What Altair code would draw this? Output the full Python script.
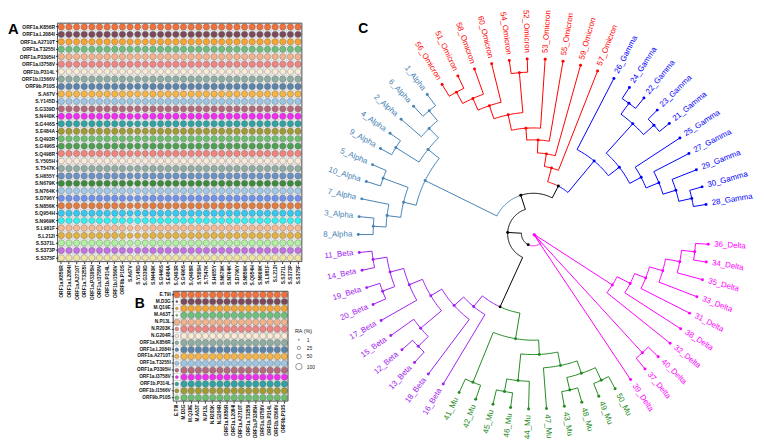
import math
import altair as alt
import pandas as pd

# ---------------- data ----------------
a_muts = ["ORF1a.K856R", "ORF1a.L2084I", "ORF1a.A2710T", "ORF1a.T3255I", "ORF1a.P3395H",
          "ORF1a.I3758V", "ORF1b.P314L", "ORF1b.I1566V", "ORF9b.P10S", "S.A67V", "S.Y145D",
          "S.G339D", "S.N440K", "S.G446S", "S.E484A", "S.Q493R", "S.G496S", "S.Q498R",
          "S.Y505H", "S.T547K", "S.H655Y", "S.N679K", "S.N764K", "S.D796Y", "S.N856K",
          "S.Q954H", "S.N969K", "S.L981F", "S.L212I", "S.S371L", "S.S373P", "S.S375F"]

b_muts = ["E.T9I", "M.D3G", "M.Q19E", "M.A63T", "N.P13L", "N.R203K", "N.G204R",
          "ORF1a.K856R", "ORF1a.L2084I", "ORF1a.A2710T", "ORF1a.T3255I", "ORF1a.P3395H",
          "ORF1a.I3758V", "ORF1b.P314L", "ORF1b.I1566V", "ORF9b.P10S"]

row_colors = ["#F2703A", "#7A4A5A", "#F5A431", "#6EBF7C", "#F2B38C", "#F08482", "#FBEBD3",
              "#8FAEA2", "#5B84AA", "#F6B445", "#9CC6E4", "#B4697C", "#F22CF2", "#2FA3A3",
              "#A09B33", "#6DBF70", "#4DA052", "#F0837C", "#FBEBD6", "#92ACA2", "#6A92C2",
              "#3B8B3D", "#A2CAE8", "#7092EA", "#E07B42", "#36C8F0", "#33F0F0", "#F6BA92",
              "#E1B143", "#B2F0A2", "#C272E2", "#F1E2A2"]

# relative abundance (%), rows = a_muts, columns = a_muts
a_ra = [
    [100, 100, 100, 100, 100, 100, 100, 100, 100, 95, 95, 95, 100, 100, 100, 100, 100, 100, 100, 100, 100, 100, 100, 100, 100, 100, 100, 100, 100, 100, 100, 100],
    [100, 100, 100, 100, 100, 100, 100, 100, 100, 95, 95, 95, 100, 100, 100, 100, 100, 100, 100, 100, 100, 100, 100, 100, 100, 100, 100, 100, 100, 100, 100, 100],
    [100, 100, 100, 100, 100, 100, 100, 100, 100, 95, 95, 95, 100, 100, 100, 100, 100, 100, 100, 100, 100, 100, 100, 100, 100, 100, 100, 100, 100, 100, 100, 100],
    [100, 100, 100, 100, 100, 100, 100, 100, 100, 95, 95, 95, 100, 100, 100, 100, 100, 100, 100, 100, 100, 100, 100, 100, 100, 100, 100, 100, 100, 100, 100, 100],
    [100, 100, 100, 100, 100, 100, 100, 100, 100, 95, 95, 95, 100, 100, 100, 100, 100, 100, 100, 100, 100, 100, 100, 100, 100, 100, 100, 100, 95, 95, 100, 100],
    [100, 100, 100, 100, 100, 100, 100, 100, 100, 95, 95, 95, 100, 100, 100, 100, 100, 100, 100, 100, 100, 100, 100, 100, 100, 100, 100, 100, 100, 100, 100, 100],
    [92, 92, 92, 92, 92, 92, 92, 92, 92, 88, 88, 88, 92, 92, 92, 92, 92, 92, 92, 92, 92, 92, 92, 92, 92, 88, 88, 92, 92, 92, 92, 92],
    [100, 100, 100, 100, 100, 100, 100, 100, 100, 95, 95, 95, 100, 100, 100, 100, 100, 100, 100, 100, 100, 100, 100, 100, 100, 100, 100, 100, 100, 100, 100, 100],
    [100, 100, 100, 100, 100, 100, 100, 100, 100, 95, 95, 95, 100, 100, 100, 100, 100, 100, 100, 100, 100, 100, 100, 100, 100, 100, 100, 100, 100, 100, 100, 100],
    [100, 100, 100, 100, 100, 100, 100, 100, 100, 95, 95, 95, 100, 100, 100, 100, 100, 100, 100, 100, 100, 100, 100, 100, 100, 100, 100, 100, 100, 100, 100, 100],
    [100, 100, 100, 100, 100, 100, 100, 100, 100, 95, 95, 95, 100, 100, 100, 100, 100, 100, 100, 100, 100, 100, 100, 100, 100, 100, 100, 100, 100, 100, 100, 100],
    [100, 100, 100, 100, 100, 100, 100, 100, 100, 95, 95, 95, 100, 100, 100, 100, 100, 100, 100, 100, 100, 100, 100, 100, 100, 100, 100, 100, 100, 100, 100, 100],
    [100, 100, 100, 100, 100, 100, 100, 100, 100, 95, 95, 95, 100, 100, 100, 100, 100, 100, 100, 100, 100, 100, 100, 100, 100, 100, 100, 100, 100, 100, 100, 100],
    [100, 100, 100, 100, 100, 100, 100, 100, 100, 95, 95, 95, 100, 100, 100, 100, 100, 100, 100, 100, 100, 100, 100, 100, 100, 100, 100, 100, 100, 100, 100, 100],
    [100, 100, 100, 100, 100, 100, 100, 100, 100, 95, 95, 95, 100, 100, 100, 100, 100, 100, 100, 100, 100, 100, 100, 100, 100, 100, 100, 100, 100, 100, 100, 100],
    [100, 100, 100, 100, 100, 100, 100, 100, 100, 95, 95, 95, 100, 100, 100, 100, 100, 100, 100, 100, 100, 100, 100, 100, 100, 100, 100, 100, 100, 100, 100, 100],
    [100, 100, 100, 100, 100, 100, 100, 100, 100, 95, 95, 95, 100, 100, 100, 100, 100, 100, 100, 100, 100, 100, 100, 100, 100, 100, 100, 100, 100, 100, 100, 100],
    [100, 100, 100, 100, 100, 100, 100, 100, 100, 95, 95, 95, 100, 100, 100, 100, 100, 100, 100, 100, 100, 100, 100, 100, 100, 100, 100, 100, 100, 100, 100, 100],
    [95, 95, 95, 95, 95, 95, 95, 95, 95, 85, 85, 90, 95, 95, 95, 95, 95, 95, 95, 95, 95, 95, 95, 95, 95, 95, 95, 95, 95, 95, 95, 95],
    [100, 100, 100, 100, 100, 100, 100, 100, 100, 90, 95, 95, 100, 100, 100, 100, 100, 100, 100, 100, 100, 100, 100, 100, 100, 100, 100, 100, 100, 100, 100, 100],
    [100, 100, 100, 100, 100, 100, 100, 100, 100, 90, 95, 95, 100, 100, 100, 100, 100, 100, 100, 100, 100, 100, 100, 100, 100, 100, 100, 100, 100, 100, 100, 100],
    [100, 100, 100, 100, 100, 100, 100, 100, 100, 90, 95, 95, 100, 100, 100, 100, 100, 100, 100, 100, 100, 100, 100, 100, 100, 100, 100, 100, 100, 100, 100, 100],
    [100, 100, 100, 100, 100, 100, 100, 100, 100, 90, 95, 95, 100, 100, 100, 100, 100, 100, 100, 100, 100, 100, 100, 100, 100, 100, 100, 100, 100, 100, 100, 100],
    [100, 100, 100, 100, 100, 100, 100, 100, 100, 90, 95, 95, 100, 100, 100, 100, 100, 100, 100, 100, 100, 100, 100, 100, 100, 100, 100, 100, 100, 100, 100, 100],
    [100, 100, 100, 100, 100, 100, 100, 100, 100, 90, 95, 95, 100, 100, 100, 100, 100, 100, 100, 100, 100, 100, 100, 100, 100, 100, 100, 100, 100, 100, 100, 100],
    [100, 100, 100, 100, 100, 100, 100, 100, 100, 90, 95, 95, 100, 100, 100, 100, 100, 100, 100, 100, 100, 100, 100, 100, 100, 100, 100, 100, 100, 100, 100, 100],
    [100, 100, 100, 100, 100, 100, 100, 100, 100, 90, 95, 95, 100, 100, 100, 100, 100, 100, 100, 100, 100, 100, 100, 100, 100, 100, 100, 100, 100, 100, 100, 100],
    [100, 100, 100, 100, 100, 100, 100, 100, 100, 80, 85, 95, 100, 100, 100, 100, 100, 100, 100, 100, 100, 100, 100, 100, 100, 100, 100, 100, 100, 100, 100, 100],
    [100, 100, 100, 100, 100, 100, 100, 100, 100, 80, 85, 95, 100, 100, 100, 100, 100, 100, 100, 100, 100, 100, 100, 100, 100, 100, 100, 100, 100, 100, 100, 100],
    [100, 100, 100, 100, 100, 100, 100, 100, 100, 80, 90, 95, 100, 100, 100, 100, 100, 100, 100, 100, 100, 100, 100, 100, 100, 100, 100, 100, 100, 100, 100, 100],
    [100, 100, 100, 100, 100, 100, 100, 100, 100, 90, 95, 95, 100, 100, 100, 100, 100, 100, 100, 100, 100, 100, 100, 100, 100, 100, 100, 100, 100, 100, 100, 100],
    [100, 100, 100, 100, 100, 100, 100, 100, 100, 90, 95, 95, 100, 100, 100, 100, 100, 100, 100, 100, 100, 100, 100, 100, 100, 100, 100, 100, 100, 100, 100, 100],
]

# rows = b_muts, columns = b_muts
b_ra = [
    [95, 100, 100, 100, 90, 100, 100, 100, 100, 100, 100, 100, 100, 100, 100, 100],
    [10, 100, 100, 100, 100, 100, 100, 100, 100, 100, 100, 100, 100, 100, 100, 100],
    [18, 100, 100, 100, 100, 100, 100, 100, 100, 100, 100, 100, 100, 100, 100, 100],
    [10, 100, 100, 100, 100, 100, 100, 100, 100, 100, 100, 100, 100, 100, 100, 100],
    [85, 100, 100, 100, 100, 100, 100, 100, 100, 100, 100, 100, 100, 100, 100, 100],
    [35, 100, 100, 100, 100, 100, 100, 100, 100, 100, 100, 100, 100, 100, 100, 100],
    [35, 100, 100, 100, 100, 100, 100, 100, 100, 100, 100, 100, 100, 100, 100, 100],
    [35, 100, 100, 100, 100, 100, 100, 100, 100, 100, 100, 100, 100, 100, 100, 100],
    [35, 100, 100, 100, 100, 100, 100, 100, 100, 100, 100, 100, 100, 100, 100, 100],
    [45, 100, 100, 100, 100, 100, 100, 100, 100, 100, 100, 100, 100, 100, 100, 100],
    [45, 100, 100, 100, 100, 100, 100, 100, 100, 100, 100, 100, 100, 100, 100, 100],
    [35, 100, 100, 100, 100, 100, 100, 100, 100, 100, 100, 100, 100, 100, 100, 100],
    [22, 100, 100, 100, 100, 100, 100, 100, 100, 100, 100, 100, 100, 100, 100, 100],
    [35, 100, 100, 100, 100, 100, 100, 100, 100, 100, 100, 100, 100, 100, 100, 100],
    [45, 100, 100, 100, 100, 100, 100, 100, 100, 100, 100, 100, 100, 100, 100, 100],
    [45, 100, 100, 100, 100, 100, 100, 100, 100, 100, 100, 100, 100, 100, 100, 100],
]
ra_legend_values = [1, 25, 50, 100]

# dendrogram: internal nodes (left child, right child, depth; tips have depth 1)
node_names = ["g1", "g2", "g3", "g4", "g5", "g6", "g7", "g8", "g9",
              "o1", "o2", "o3", "o4", "o5", "o6", "o7", "o8", "o9", "OG",
              "a1", "a2", "a3", "a4", "a5", "a6", "a7", "a8", "a9", "N1",
              "b1", "b2", "b3", "b4", "b5", "b6", "b7", "b8", "b9",
              "m1", "m2", "m3", "m4", "m5", "m6", "m7", "m8", "m9", "BM", "X",
              "d1", "d2", "d3", "d4", "d5", "d6", "d7", "d8", "d9", "root"]
node_left = ["28_Gamma", "g1", "g2", "g3", "21_Gamma", "22_Gamma", "g5", "g4", "g8",
             "51_Omicron", "58_Omicron", "60_Omicron", "52_Omicron", "o4", "53_Omicron",
             "55_Omicron", "59_Omicron", "57_Omicron", "g9",
             "1_Alpha", "a1", "4_Alpha", "a2", "5_Alpha", "3_Alpha", "7_Alpha", "a5", "a4", "OG",
             "11_Beta", "19_Beta", "b1", "b3", "12_Beta", "15_Beta", "b4", "b7", "b8",
             "41_Mu", "45_Mu", "m2", "43_Mu", "49_Mu", "m4", "47_Mu", "m3", "m1", "b9", "N1",
             "34_Delta", "35_Delta", "33_Delta", "31_Delta", "38_Delta", "32_Delta",
             "37_Delta", "d7", "39_Delta", "X"]
node_right = ["30_Gamma", "29_Gamma", "27_Gamma", "25_Gamma", "23_Gamma", "24_Gamma", "g6", "g7",
              "26_Gamma",
              "56_Omicron", "o1", "o2", "54_Omicron", "o3", "o5", "o6", "o7", "o8", "o9",
              "6_Alpha", "2_Alpha", "9_Alpha", "a3", "10_Alpha", "8_Alpha", "a6", "a7", "a8", "a9",
              "14_Beta", "20_Beta", "b2", "17_Beta", "13_Beta", "b5", "b6", "18_Beta", "16_Beta",
              "42_Mu", "46_Mu", "44_Mu", "48_Mu", "50_Mu", "m5", "m6", "m7", "m8", "m9", "BM",
              "36_Delta", "d1", "d2", "d3", "d4", "d5", "40_Delta", "d6", "d8", "d9"]
node_depth = [0.927, 0.851, 0.774, 0.695, 0.927, 0.924, 0.847, 0.621, 0.542,
              0.921, 0.847, 0.774, 0.924, 0.695, 0.605, 0.537, 0.463, 0.390, 0.308,
              0.921, 0.847, 0.927, 0.771, 0.915, 0.915, 0.842, 0.763, 0.689, 0.232,
              0.927, 0.921, 0.847, 0.766, 0.919, 0.839, 0.684, 0.610, 0.537,
              0.915, 0.915, 0.842, 0.915, 0.921, 0.842, 0.767, 0.689, 0.607, 0.458, 0.147,
              0.927, 0.851, 0.768, 0.689, 0.621, 0.537, 0.921, 0.011, 0.006, 0.068]

clade_names = ["Alpha", "Beta", "Delta", "Gamma", "Mu", "Omicron", "Internal"]
clade_colors = ["#4682B4", "#A020F0", "#FF00FF", "#0000FF", "#228B22", "#FF0000", "#000000"]

# ---------------- layout (pixels on the page) ----------------
OFF = 8
W, H = 756, 434
FONT = "Liberation Sans"
A_X0, A_X1, A_Y0, A_Y1 = 58, 305, 21, 262
B_X0, B_X1, B_Y0, B_Y1 = 175, 291, 292, 403
T_CX, T_CY, T_R = 539, 234, 177
LEAF_START, LEAF_STEP = 9.7, 5.88
LABEL_R = 1.034
DOT_MAX = 42


def matrix_frame(muts, ra):
    rows = []
    for i, r in enumerate(muts):
        for j, c in enumerate(muts):
            rows.append({"row": r, "col": c, "ra": ra[i][j]})
    return pd.DataFrame(rows)


def dot_panel(muts, ra, box, colors, fsize, legend):
    x0, x1, y0, y1 = box
    df = matrix_frame(muts, ra)
    xs = alt.X("col:N", scale=alt.Scale(domain=muts, range=[x0 - OFF, x1 - OFF],
                                         paddingInner=0, paddingOuter=0),
               axis=alt.Axis(title=None, orient="bottom", offset=-(H - (y1 - OFF)),
                             labelAngle=270, labelFontSize=fsize, labelFontWeight="bold",
                             labelFont=FONT, labelColor="#111", tickSize=2, tickColor="#333",
                             domain=False, grid=False, labelPadding=1, labelOverlap=False))
    ys = alt.Y("row:N", scale=alt.Scale(domain=muts, range=[y0 - OFF, y1 - OFF],
                                         paddingInner=0, paddingOuter=0),
               axis=alt.Axis(title=None, orient="left", offset=-(x0 - OFF),
                             labelFontSize=fsize, labelFontWeight="bold", labelFont=FONT,
                             labelColor="#111", tickSize=2, tickColor="#333", domain=False,
                             grid=False, labelPadding=1, labelOverlap=False))
    tiles = alt.Chart(df).mark_rect(fill="white", stroke="#c4c4c4", strokeWidth=0.5).encode(x=xs, y=ys)
    size_scale = alt.Scale(domain=[0, 100], range=[1, DOT_MAX])
    if legend:
        leg = alt.Legend(title="RA (%)", values=ra_legend_values, orient="none",
                         legendX=290, legendY=322, titleFontSize=5.5, titleFont=FONT,
                         titleFontWeight="normal", titleColor="#222", labelFontSize=5,
                         labelFont=FONT, labelColor="#222", symbolFillColor="white",
                         symbolStrokeColor="#555", symbolStrokeWidth=0.6, rowPadding=1.2,
                         labelOffset=4, titlePadding=3)
        size_enc = alt.Size("ra:Q", scale=size_scale, legend=leg)
    else:
        size_enc = alt.Size("ra:Q", scale=size_scale, legend=None)
    dots = alt.Chart(df).mark_circle(opacity=1, stroke="#6a6a6a", strokeWidth=0.4).encode(
        x=xs, y=ys,
        color=alt.Color("row:N", scale=alt.Scale(domain=muts, range=colors), legend=None),
        size=size_enc)
    frame = alt.Chart(pd.DataFrame({"k": [0]})).mark_rect(
        filled=False, stroke="#333", strokeWidth=0.8).encode(
        x=alt.value(x0 - OFF), x2=alt.value(x1 - OFF),
        y=alt.value(y0 - OFF), y2=alt.value(y1 - OFF))
    return alt.layer(tiles, dots, frame)


panel_a = dot_panel(a_muts, a_ra, (A_X0, A_X1, A_Y0, A_Y1), row_colors[:len(a_muts)], 5, False)
panel_b = dot_panel(b_muts, b_ra, (B_X0, B_X1, B_Y0, B_Y1), row_colors[:len(b_muts)], 4.8, True)

# ---------------- dendrogram layout ----------------
kids = {n: (l, r) for n, l, r in zip(node_names, node_left, node_right)}
depth = dict(zip(node_names, node_depth))
parent = {}
for n, (l, r) in kids.items():
    parent[l] = n
    parent[r] = n
root = [n for n in node_names if n not in parent][0]
order = []


def walk(n):
    if n in kids:
        walk(kids[n][0])
        walk(kids[n][1])
    else:
        order.append(n)


walk(root)
theta = {}
for i, leaf in enumerate(order):
    theta[leaf] = LEAF_START + i * LEAF_STEP
    depth[leaf] = 1.0


def ang(n):
    if n not in theta:
        l, r = kids[n]
        theta[n] = (ang(l) + ang(r)) / 2
    return theta[n]


ang(root)


def leaf_set(n):
    if n in kids:
        return leaf_set(kids[n][0]) | leaf_set(kids[n][1])
    return {n.split("_")[1]}


clade = {}
for n in list(kids) + order:
    s = leaf_set(n)
    clade[n] = s.pop() if len(s) == 1 else "Internal"


def pol(d, t):
    a = math.radians(t)
    return d * math.cos(a), d * math.sin(a)


edge_rows = []
for n, p in parent.items():
    t0, t1 = theta[p], theta[n]
    steps = max(1, int(abs(t1 - t0) / 1.0))
    k = 0
    for s in range(steps + 1):
        t = t0 + (t1 - t0) * s / steps
        x, y = pol(depth[p], t)
        edge_rows.append({"edge": n, "k": k, "x": x, "y": y, "clade": clade[n]})
        k += 1
    x, y = pol(depth[n], t1)
    edge_rows.append({"edge": n, "k": k, "x": x, "y": y, "clade": clade[n]})
edges = pd.DataFrame(edge_rows)

dot_rows = []
for n in list(kids) + order:
    x, y = pol(depth[n], theta[n])
    dot_rows.append({"node": n, "x": x, "y": y, "clade": clade[n]})
dots_t = pd.DataFrame(dot_rows)

lab_rows = []
for leaf in order:
    t = theta[leaf]
    x, y = pol(LABEL_R, t)
    left = 90 < t < 270
    rot = (180 - t) % 360 if left else (360 - t) % 360
    lab_rows.append({"label": leaf, "x": x, "y": y, "rot": rot, "clade": clade[leaf],
                     "side": "L" if left else "R"})
labels_t = pd.DataFrame(lab_rows)

tx = alt.X("x:Q", scale=alt.Scale(domain=[-1, 1], range=[T_CX - T_R - OFF, T_CX + T_R - OFF],
                                   zero=False, nice=False), axis=None)
ty = alt.Y("y:Q", scale=alt.Scale(domain=[-1, 1], range=[T_CY + T_R - OFF, T_CY - T_R - OFF],
                                   zero=False, nice=False), axis=None)
tcol = alt.Color("clade:N", scale=alt.Scale(domain=clade_names, range=clade_colors), legend=None)

t_edges = alt.Chart(edges).mark_line(strokeWidth=1, interpolate="linear").encode(
    x=tx, y=ty, detail="edge:N", order="k:Q", color=tcol)
t_dots = alt.Chart(dots_t).mark_circle(size=9, opacity=1).encode(x=tx, y=ty, color=tcol)
t_lab_r = alt.Chart(labels_t).transform_filter(alt.datum.side == "R").mark_text(
    align="left", baseline="middle", fontSize=8, font=FONT).encode(
    x=tx, y=ty, text="label:N", angle=alt.Angle("rot:Q", scale=None), color=tcol)
t_lab_l = alt.Chart(labels_t).transform_filter(alt.datum.side == "L").mark_text(
    align="right", baseline="middle", fontSize=8, font=FONT).encode(
    x=tx, y=ty, text="label:N", angle=alt.Angle("rot:Q", scale=None), color=tcol)
panel_c = alt.layer(t_edges, t_dots, t_lab_r, t_lab_l)


# panel letters
def letter(txt, x, y, fs):
    return alt.Chart(pd.DataFrame({"t": [txt]})).mark_text(
        fontSize=fs, fontWeight="bold", font=FONT, color="black", align="left",
        baseline="middle").encode(text="t:N", x=alt.value(x - OFF), y=alt.value(y - OFF))


letters = alt.layer(letter("A", 8, 27, 15), letter("B", 136, 305, 14), letter("C", 362, 27, 14))

chart = alt.layer(panel_a, panel_b, panel_c, letters).resolve_scale(
    x="independent", y="independent", color="independent", size="independent"
).properties(
    width=W, height=H, padding=0, autosize=alt.AutoSizeParams(type="none"), background="white"
).configure_view(stroke=None)

chart.save("out.html", embed_options={"renderer": "svg", "actions": False})
